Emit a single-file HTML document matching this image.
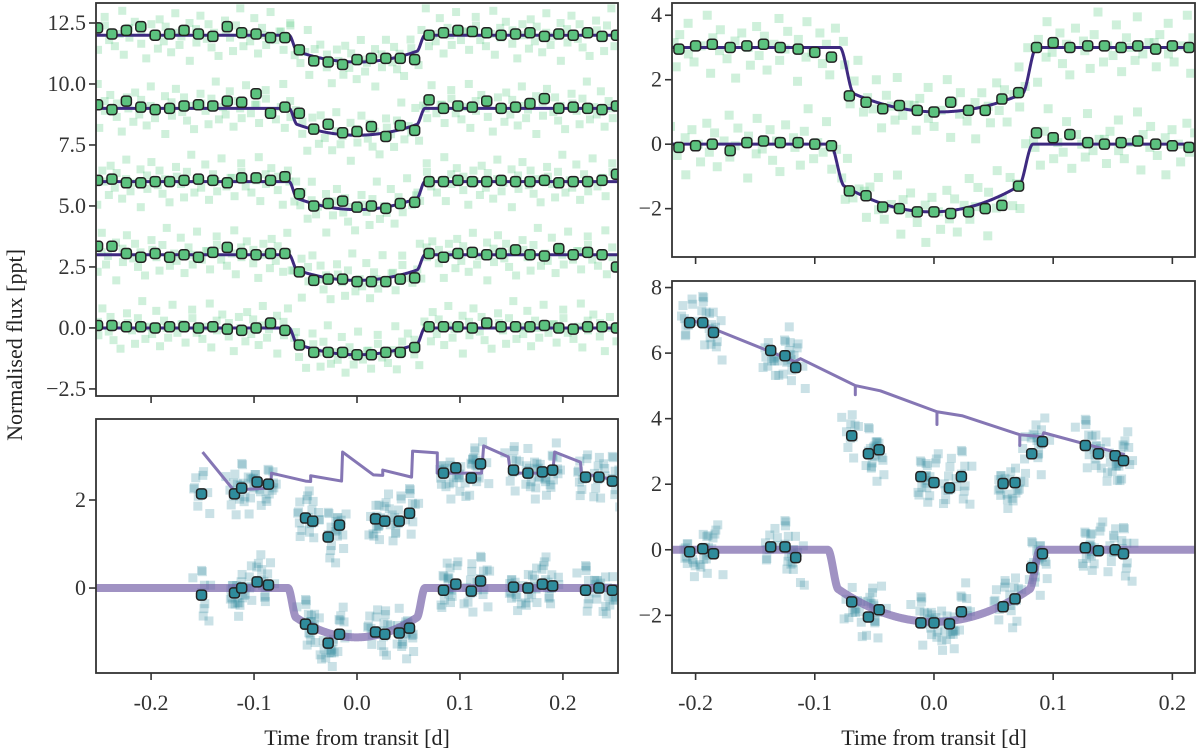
<!DOCTYPE html>
<html><head><meta charset="utf-8">
<style>
html,body{margin:0;padding:0;background:#fff;}
svg{display:block;}
text{font-family:"Liberation Serif","DejaVu Serif",serif;}
</style></head>
<body>
<svg id="fig" width="1200" height="755" viewBox="0 0 1200 755" xmlns="http://www.w3.org/2000/svg">
<text font-family="Liberation Serif, serif" x="0" y="0" transform="translate(22,345) rotate(-90)" text-anchor="middle" font-size="22" fill="#222">Normalised flux [ppt]</text>
<text font-family="Liberation Serif, serif" x="357" y="745" text-anchor="middle" font-size="22" fill="#222">Time from transit [d]</text>
<text font-family="Liberation Serif, serif" x="934" y="745" text-anchor="middle" font-size="22" fill="#222">Time from transit [d]</text>
</svg>
<script>
// ---------- data ----------
const xTickVals = [-0.2, -0.1, 0.0, 0.1, 0.2];
const xTickLabels = ["-0.2", "-0.1", "0.0", "0.1", "0.2"];
const tlYTicks = [12.5, 10.0, 7.5, 5.0, 2.5, 0.0, -2.5];
const tlYLabels = ["12.5", "10.0", "7.5", "5.0", "2.5", "0.0", "\u22122.5"];
const trYTicks = [4, 2, 0, -2];
const trYLabels = ["4", "2", "0", "\u22122"];
const blYTicks = [2, 0];
const blYLabels = ["2", "0"];
const brYTicks = [8, 6, 4, 2, 0, -2];
const brYLabels = ["8", "6", "4", "2", "0", "\u22122"];

// top-left: 5 stacked transits
const tlOffsets = [12, 9, 6, 3, 0];
const tlDepths = [1.1, 1.1, 1.15, 1.05, 1.1];
const tlBinT = [-0.252,-0.238,-0.224,-0.21,-0.196,-0.182,-0.168,-0.154,-0.14,-0.126,-0.112,-0.098,-0.084,-0.07,-0.056,-0.042,-0.028,-0.014,0,0.014,0.028,0.042,0.056,0.07,0.084,0.098,0.112,0.126,0.14,0.154,0.168,0.182,0.196,0.21,0.224,0.238,0.252];
const tlRow0 = [0.3,0.05,0.2,0.35,0,0.05,0.2,0.05,-0.05,0.35,0.1,0.05,-0.1,-0.1,-0.6,-1.05,-1.1,-1.2,-1.0,-0.95,-0.95,-0.95,-1.0,0.0,0.1,0.2,0.15,0.1,0,0.05,0.1,-0.05,0.05,0.0,0.1,-0.05,0.0];
const tlRow1 = [0.15,-0.05,0.3,0.05,-0.05,0,0.1,0.15,0.1,0.3,0.25,0.6,-0.2,0.05,-0.2,-0.85,-0.65,-1.0,-0.95,-0.75,-1.15,-0.7,-0.9,0.35,0,0.1,0.05,0.3,0.0,0.05,0.2,0.4,0.0,0.05,0,-0.05,0.1];
const tlRow2 = [0.05,0.1,-0.05,-0.05,0,0,0.05,0.1,0.05,-0.05,0.15,0.15,0.05,0.2,-0.5,-1.0,-0.9,-0.8,-1.05,-1.0,-1.1,-0.9,-0.85,0,0,0.05,0,0,0.05,0,0,0.05,-0.05,0,0,0.05,0.3];
const tlRow3 = [0.35,0.35,0.05,-0.1,0.05,-0.1,0,-0.1,0.1,0.3,0.05,0,0.05,0.05,-0.7,-1.05,-1.0,-1.0,-1.1,-1.1,-1.1,-1.0,-0.95,0.05,-0.1,0.05,0.1,0,0.05,0.2,0,-0.05,0.25,0,0.1,0,-0.5];
const tlRow4 = [0.1,0.1,0.05,0.05,0,0.05,0.05,0,0.05,-0.05,-0.1,0,0.2,-0.1,-0.7,-1.0,-1.0,-1.0,-1.1,-1.1,-1.0,-1.0,-0.8,0.05,0.05,0.05,0,0.2,0.05,0.05,0.05,0.1,0,-0.05,0.05,0.05,0];

// top-right: 2 transits
const trBinT = [-0.214,-0.2,-0.186,-0.171,-0.157,-0.143,-0.129,-0.114,-0.1,-0.086,-0.071,-0.057,-0.043,-0.029,-0.014,0,0.014,0.029,0.043,0.057,0.071,0.086,0.1,0.114,0.129,0.143,0.157,0.171,0.186,0.2,0.214];
const trUpper = [2.95,3.05,3.1,3.0,3.05,3.1,3.0,2.95,2.85,2.7,1.5,1.3,1.1,1.2,1.05,1.0,1.3,1.05,1.05,1.4,1.6,3.0,3.15,3.0,3.05,3.05,3.0,3.05,2.95,3.05,3.0];
const trLower = [-0.1,-0.05,0.0,-0.2,0.05,0.1,0.05,0.05,0.0,-0.05,-1.45,-1.6,-1.95,-2.0,-2.1,-2.1,-2.15,-2.1,-2.0,-1.9,-1.3,0.35,0.2,0.3,0.05,0.0,0.05,0.1,0.0,-0.05,-0.1];

// bottom-left
const blBinT = [-0.151,-0.119,-0.112,-0.097,-0.086,-0.050,-0.043,-0.028,-0.017,0.018,0.027,0.041,0.051,0.084,0.096,0.111,0.120,0.152,0.166,0.180,0.190,0.222,0.235,0.248];
const blUpper = [2.14,2.14,2.27,2.41,2.36,1.59,1.52,1.16,1.43,1.57,1.52,1.52,1.70,2.61,2.73,2.5,2.82,2.68,2.61,2.64,2.68,2.52,2.52,2.43];
const blLower = [-0.16,-0.11,0,0.14,0.07,-0.82,-0.93,-1.25,-1.05,-1.0,-1.05,-1.02,-0.91,-0.05,0.09,-0.07,0.16,0.02,0,0.09,0.05,-0.05,0,-0.05];
const blLineT = [-0.150,-0.120,-0.084,-0.083,-0.050,-0.045,-0.045,-0.015,-0.014,0.016,0.025,0.025,0.053,0.054,0.078,0.078,0.121,0.123,0.147,0.149,0.190,0.192,0.217,0.218,0.252];
const blLineV = [3.09,2.23,2.27,2.61,2.43,2.42,2.55,2.43,3.09,2.57,2.56,2.68,2.52,3.11,3.07,2.61,2.61,3.23,2.98,2.61,2.61,3.09,2.86,2.61,2.45];

// bottom-right
const brBinT = [-0.205,-0.194,-0.185,-0.137,-0.125,-0.116,-0.069,-0.055,-0.046,-0.011,0.0,0.013,0.023,0.058,0.068,0.082,0.091,0.127,0.138,0.152,0.159];
const brUpper = [6.93,6.93,6.63,6.08,5.92,5.56,3.48,2.93,3.05,2.23,2.05,1.89,2.23,2.02,2.05,2.93,3.30,3.18,2.93,2.87,2.72];
const brLower = [-0.06,0.03,-0.12,0.09,0.09,-0.24,-1.59,-2.05,-1.83,-2.23,-2.23,-2.26,-1.89,-1.74,-1.50,-0.55,-0.12,0.06,-0.03,0,-0.12];
const brLineT = [-0.208,-0.1166,-0.112,-0.066,-0.066,-0.066,-0.045,0.0025,0.0025,0.0025,0.0235,0.072,0.072,0.072,0.091,0.092,0.160];
const brLineV = [7.08,5.74,5.83,5.01,4.73,5.01,4.85,4.21,3.82,4.21,4.09,3.51,3.18,3.51,3.45,3.57,2.90];

// measured scatter residuals (unit-less), reused for faint raw points
const noise = [0.3,-1.2,0.8,1.5,-0.4,-0.9,0.1,2.0,-1.6,0.6,-0.2,1.1,-0.7,0.4,-1.9,0.9,0.0,-1.1,1.3,-0.5,0.7,-1.4,0.2,1.8,-0.8,-0.1,1.0,-2.1,0.5,-0.6,1.6,-0.3,0.9,-1.0,0.2,-1.7,1.2,0.4,-0.2,-1.3,0.8,2.2,-0.9,0.1,-0.5,1.4,-1.5,0.6,0.0,-0.8,1.9,-0.4,0.3];

// ---------- rendering ----------
const NS = "http://www.w3.org/2000/svg";
const svg = document.getElementById("fig");
function mk(tag, attrs, parent) {
  const e = document.createElementNS(NS, tag);
  for (const k in attrs) e.setAttribute(k, attrs[k]);
  (parent || svg).appendChild(e);
  return e;
}
function transit(t, t1, t2, depth, w, e) {
  if (t <= t1 || t >= t2) return 0;
  const d = Math.min(t - t1, t2 - t);
  if (d < w) { const s = d / w; return -depth * e * (s * s * (3 - 2 * s)); }
  const c = (t1 + t2) / 2, H = (t2 - t1) / 2 - w, u = (t - c) / H;
  return -depth * (1 - (1 - e) * u * u);
}
function panel(name, x0, x1, y0, y1, tmin, tmax, vmin, vmax) {
  const p = {x0, x1, y0, y1};
  p.sx = t => x0 + (t - tmin) / (tmax - tmin) * (x1 - x0);
  p.sy = v => y1 - (v - vmin) / (vmax - vmin) * (y1 - y0);
  const g = mk("g", {});
  
  
  const cp = mk("clipPath", {id: "clip-" + name}, g);
  mk("rect", {x: x0, y: y0, width: x1 - x0, height: y1 - y0}, cp);
  p.plot = mk("g", {"clip-path": "url(#clip-" + name + ")"}, g);
  p.g = g;
  return p;
}
function frame(p, yt, yl, showXLabels) {
  const f = mk("rect", {x: p.x0, y: p.y0, width: p.x1 - p.x0, height: p.y1 - p.y0, fill: "none", stroke: "#333", "stroke-width": 1.8}, p.g);
  
  
  yt.forEach((v, i) => {
    const y = p.sy(v);
    mk("line", {x1: p.x0 - 7, x2: p.x0, y1: y, y2: y, stroke: "#333", "stroke-width": 1.6}, p.g);
    const tx = mk("text", {x: p.x0 - 10, y: y + 7, "text-anchor": "end", "font-size": 22, fill: "#333", "font-family": "Liberation Serif, serif"}, p.g);
    
    
    tx.textContent = yl[i];
  });
  xTickVals.forEach((v, i) => {
    const x = p.sx(v);
    mk("line", {x1: x, x2: x, y1: p.y1, y2: p.y1 + 7, stroke: "#333", "stroke-width": 1.6}, p.g);
    if (showXLabels) {
      const tx = mk("text", {x: x, y: p.y1 + 37, "text-anchor": "middle", "font-size": 22, fill: "#333", "font-family": "Liberation Serif, serif"}, p.g);
      
      
      tx.textContent = xTickLabels[i];
    }
  });
}
function sq(p, t, v, fill, size, name) {
  const r = mk("rect", {x: p.sx(t) - size / 2, y: p.sy(v) - size / 2, width: size, height: size, fill: fill}, p.plot);
  
  
}
function bin(p, t, v, fill, name) {
  const r = mk("rect", {x: p.sx(t) - 5, y: p.sy(v) - 5, width: 10, height: 10, rx: 3, fill: fill, stroke: "#222", "stroke-width": 1.5}, p.plot);
  
  
}
function modelLine(p, f, tmin, tmax, color, width, name) {
  let d = "";
  for (let t = tmin; t <= tmax + 1e-9; t += 0.0005) d += (d ? "L" : "M") + p.sx(t).toFixed(2) + "," + p.sy(f(t)).toFixed(2);
  const l = mk("path", {d: d, fill: "none", stroke: color, "stroke-width": width, "stroke-linejoin": "round"}, p.plot);
  
  
}
function polyLine(p, ts, vs, color, width, name) {
  const d = ts.map((t, i) => (i ? "L" : "M") + p.sx(t).toFixed(2) + "," + p.sy(vs[i]).toFixed(2)).join("");
  const l = mk("path", {d: d, fill: "none", stroke: color, "stroke-width": width, "stroke-linejoin": "round"}, p.plot);
  
  
}

const GREEN_RAW = "rgba(95,205,135,0.3)", GREEN_BIN = "#5cc27f", PURPLE = "#3e2a80";
const TEAL_RAW = "rgba(45,135,155,0.25)", TEAL_BIN = "#2f8c9c", LAV = "rgba(120,100,170,0.7)";

// Top-left
const TL = panel("top-left-panel", 96, 618, 3, 396, -0.2535, 0.2535, -2.79, 13.32);
const tlRows = [tlRow0, tlRow1, tlRow2, tlRow3, tlRow4];
tlOffsets.forEach((off, r) => {
  const f = t => off + transit(t, -0.066, 0.066, tlDepths[r], 0.008, 0.6);
  let k = r * 7;
  for (let t = -0.253; t <= 0.253; t += 0.0034) {
    const n1 = noise[k % noise.length], n2 = noise[(k * 3 + 5) % noise.length];
    sq(TL, t + n2 * 0.0012, f(t) + n1 * 0.5, GREEN_RAW, 8, "raw-point");
    k++;
  }
});
tlOffsets.forEach((off, r) => {
  modelLine(TL, t => off + transit(t, -0.066, 0.066, tlDepths[r], 0.008, 0.6), -0.2535, 0.2535, PURPLE, 3, "model-line-" + r);
});
tlOffsets.forEach((off, r) => {
  tlBinT.forEach((t, i) => bin(TL, t, off + tlRows[r][i], GREEN_BIN, "binned-point"));
});
frame(TL, tlYTicks, tlYLabels, false);

// Top-right
const TR = panel("top-right-panel", 672, 1195, 3, 257, -0.2198, 0.219, -3.5, 4.38);
const trCurves = [{off: 3, t1: -0.079, t2: 0.086, depth: 2.0, e: 0.72}, {off: 0, t1: -0.087, t2: 0.083, depth: 2.1, e: 0.62}];
trCurves.forEach((c, r) => {
  const f = t => c.off + transit(t, c.t1, c.t2, c.depth, 0.012, c.e);
  let k = r * 11;
  for (let t = -0.219; t <= 0.219; t += 0.0038) {
    const n1 = noise[k % noise.length], n2 = noise[(k * 3 + 2) % noise.length];
    sq(TR, t + n2 * 0.0012, f(t) + n1 * 0.5, GREEN_RAW, 9, "raw-point");
    k++;
  }
});
trCurves.forEach((c, r) => modelLine(TR, t => c.off + transit(t, c.t1, c.t2, c.depth, 0.012, c.e), -0.22, 0.22, PURPLE, 3, "model-line-" + r));
trBinT.forEach((t, i) => { bin(TR, t, trUpper[i], GREEN_BIN, "binned-point"); bin(TR, t, trLower[i], GREEN_BIN, "binned-point"); });
frame(TR, trYTicks, trYLabels, false);

// Bottom-left
const BL = panel("bottom-left-panel", 96, 618, 419, 673, -0.2535, 0.2535, -1.93, 3.84);
function clusters(p, ts, vs, seed, spread) {
  ts.forEach((t, i) => {
    for (let j = 0; j < 10; j++) {
      const k = seed + i * 10 + j;
      sq(p, t + noise[(k * 7) % noise.length] * 0.004, vs[i] + noise[(k * 5 + 3) % noise.length] * spread, TEAL_RAW, 9, "raw-point");
    }
  });
}
clusters(BL, blBinT, blUpper, 0, 0.28);
clusters(BL, blBinT, blLower, 17, 0.28);
modelLine(BL, t => transit(t, -0.067, 0.066, 1.12, 0.008, 0.6), -0.2535, 0.2535, LAV, 8, "transit-model-line");
polyLine(BL, blLineT, blLineV, "#8576b4", 3, "trend-model-line");
blBinT.forEach((t, i) => { bin(BL, t, blUpper[i], TEAL_BIN, "binned-point"); bin(BL, t, blLower[i], TEAL_BIN, "binned-point"); });
frame(BL, blYTicks, blYLabels, true);

// Bottom-right
const BR = panel("bottom-right-panel", 672, 1195, 281, 673, -0.2198, 0.219, -3.76, 8.2);
clusters(BR, brBinT, brUpper, 3, 0.4);
clusters(BR, brBinT, brLower, 29, 0.4);
modelLine(BR, t => transit(t, -0.089, 0.089, 2.2, 0.009, 0.55), -0.22, 0.22, LAV, 8, "transit-model-line");
polyLine(BR, brLineT, brLineV, "#8576b4", 3, "trend-model-line");
brBinT.forEach((t, i) => { bin(BR, t, brUpper[i], TEAL_BIN, "binned-point"); bin(BR, t, brLower[i], TEAL_BIN, "binned-point"); });
frame(BR, brYTicks, brYLabels, true);
</script>
</body></html>
